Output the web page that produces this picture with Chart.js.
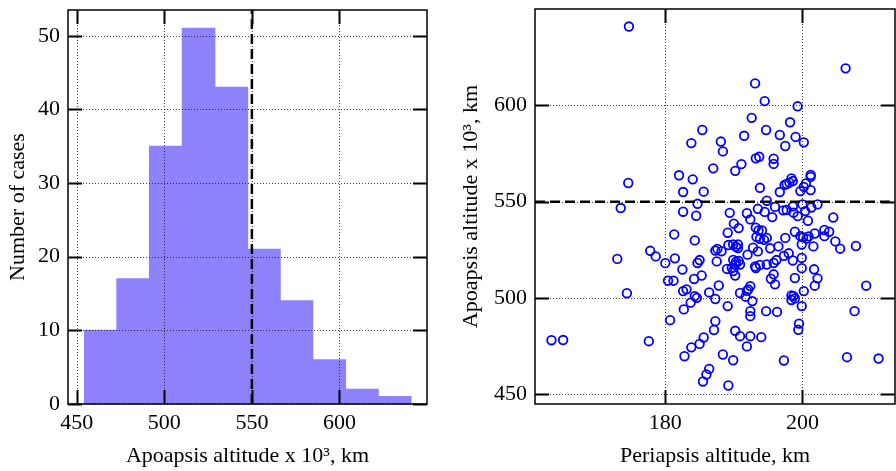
<!DOCTYPE html>
<html>
<head>
<meta charset="utf-8">
<script src="https://cdn.jsdelivr.net/npm/chart.js@4/dist/chart.umd.min.js"></script>
<style>
  html, body { margin: 0; padding: 0; background: #fff; }
  #wrap { position: relative; width: 896px; height: 471px; }
  .panel { position: absolute; top: 0; }
</style>
</head>
<body>
<div id="wrap">
  <div class="panel" style="left:0"><canvas id="histChart" width="448" height="471"></canvas></div>
  <div class="panel" style="left:448px"><canvas id="scatterChart" width="448" height="471"></canvas></div>
</div>
<script>
// Histogram of apoapsis altitude (x 10^3 km)
const binEdges = [454.4, 473.0, 491.4, 510.2, 528.9, 547.7, 566.1, 584.9, 603.5, 622.3, 640.8];
const binCounts = [10, 17, 35, 51, 43, 21, 14, 6, 2, 1];
const histXTicks = [450, 500, 550, 600];
const histYTicks = [0, 10, 20, 30, 40, 50];
const histXRange = [445, 650];
const histYRange = [0, 53.5];

// Periapsis (km) vs apoapsis (x 10^3 km) for each case
const periapsis = [
  174.7, 206.3, 193.1, 194.5, 199.3, 192.6, 198.2, 185.4, 194.7, 191.5,
  196.7, 199.0, 183.8, 188.1, 200.2, 197.5, 188.4, 193.2, 193.7, 195.8,
  195.8, 191.1, 187.0, 190.2, 182.0, 184.0, 201.2, 201.2, 198.4, 198.6,
  198.1, 197.4, 197.7, 174.6, 200.5, 200.2, 193.8, 196.7, 199.7, 201.2,
  182.6, 185.6, 194.8, 173.5, 184.7, 193.5, 194.5, 196.0, 197.2, 197.7,
  198.6, 200.0, 200.4, 201.3, 202.2, 198.7, 199.3, 182.6, 184.5, 189.4,
  191.9, 192.4, 195.6, 200.8, 204.5, 190.0, 190.7, 193.2, 193.6, 194.1,
  189.1, 181.3, 193.3, 193.8, 194.8, 194.4, 198.9, 199.7, 200.1, 200.9,
  200.6, 201.8, 203.2, 203.9, 203.2, 184.3, 197.5, 204.8, 205.5, 207.8,
  199.9, 201.6, 196.5, 195.3, 190.6, 190.3, 189.9, 189.2, 190.6, 187.6,
  187.3, 188.2, 193.5, 192.0, 198.0, 197.3, 177.8, 178.6, 173.0, 181.4,
  180.0, 185.0, 184.7, 187.5, 189.9, 190.7, 190.2, 190.9, 196.2, 195.8,
  198.6, 199.9, 182.5, 189.0, 189.7, 189.9, 190.2, 193.1, 193.8, 194.8,
  199.9, 201.7, 195.8, 195.4, 196.0, 202.2, 201.8, 198.9, 200.2, 209.3,
  180.4, 181.2, 184.2, 185.3, 187.8, 182.6, 183.1, 174.4, 186.4, 184.3,
  184.6, 183.7, 187.3, 190.9, 191.9, 192.4, 192.1, 191.7, 192.7, 189.1,
  182.7, 192.4, 192.4, 194.7, 196.3, 198.7, 198.4, 198.9, 199.9, 207.6,
  180.7, 187.3, 187.1, 199.5, 199.4, 190.2, 190.9, 192.4, 194.0, 185.6,
  185.0, 183.8, 182.8, 191.9, 163.4, 165.1, 177.6, 188.4, 189.9, 197.3,
  206.5, 211.1, 186.4, 186.0, 185.5, 189.2, 190.3, 193.2, 198.4, 192.8
];
const apoapsis = [
  640.9, 619.2, 611.4, 602.2, 599.5, 593.5, 591.2, 587.2, 587.2, 584.2,
  584.6, 583.6, 580.4, 581.2, 580.8, 578.9, 576.1, 572.5, 573.3, 572.3,
  569.6, 569.5, 567.3, 566.0, 563.7, 561.6, 563.9, 562.9, 562.1, 560.7,
  559.9, 558.7, 559.2, 559.7, 559.5, 557.7, 557.2, 555.0, 555.5, 556.0,
  555.0, 555.2, 550.5, 546.7, 548.9, 546.3, 544.7, 547.3, 545.5, 545.7,
  547.6, 548.6, 545.1, 547.0, 548.6, 544.3, 542.5, 544.8, 542.7, 544.2,
  544.0, 540.8, 542.0, 540.1, 541.8, 538.6, 536.3, 536.5, 535.1, 535.1,
  533.9, 533.0, 531.7, 530.7, 531.2, 530.2, 534.4, 532.1, 531.5, 532.0,
  530.8, 533.5, 535.3, 534.4, 532.1, 529.9, 531.2, 529.4, 525.6, 527.0,
  527.8, 526.8, 526.8, 525.8, 527.8, 526.6, 527.8, 527.5, 525.9, 525.5,
  524.6, 524.3, 524.2, 522.5, 523.2, 521.9, 524.5, 521.6, 520.3, 520.6,
  518.1, 519.7, 518.2, 519.0, 519.8, 519.2, 517.2, 517.4, 519.7, 518.2,
  519.5, 520.8, 514.8, 515.1, 515.6, 514.0, 511.7, 516.4, 517.2, 517.4,
  515.5, 514.9, 512.3, 510.0, 507.1, 510.2, 506.4, 510.4, 503.6, 506.4,
  509.0, 509.0, 509.9, 511.7, 506.5, 503.6, 504.5, 502.5, 502.9, 501.0,
  500.1, 497.6, 499.5, 502.6, 503.7, 506.2, 504.5, 500.7, 498.4, 495.8,
  494.1, 493.2, 490.6, 493.2, 492.8, 501.0, 499.0, 499.8, 495.8, 493.2,
  488.5, 488.0, 483.4, 486.7, 483.5, 483.0, 480.2, 480.2, 479.7, 479.5,
  476.2, 474.4, 469.8, 474.9, 478.1, 478.2, 477.6, 470.7, 467.7, 467.6,
  469.3, 468.6, 463.2, 460.3, 456.7, 454.6, 518.7, 515.6, 501.4, 526.1
];
const scatterXTicks = [180, 200];
const scatterYTicks = [450, 500, 550, 600];
const scatterXRange = [161, 213.5];
const scatterYRange = [445, 650];

// threshold altitude marked with a dashed line on both panels
const apoThreshold = 550;

const FONT = 'Liberation Serif';
Chart.defaults.font.family = FONT;
Chart.defaults.font.size = 22;
Chart.defaults.color = '#000';

// Dotted grid drawn over the data, box frame and inward tick marks on all sides
const framePlugin = {
  id: 'frame',
  afterDatasetsDraw(chart) {
    const { ctx, chartArea: a, scales: { x, y } } = chart;
    const tickLen = 14;
    ctx.save();
    ctx.strokeStyle = 'rgba(0,0,0,0.75)';
    ctx.lineWidth = 1;
    ctx.setLineDash([1, 2]);
    ctx.beginPath();
    x.ticks.forEach(t => {
      const px = Math.round(x.getPixelForValue(t.value)) + 0.5;
      ctx.moveTo(px, a.top); ctx.lineTo(px, a.bottom);
    });
    y.ticks.forEach(t => {
      const py = Math.round(y.getPixelForValue(t.value)) + 0.5;
      ctx.moveTo(a.left, py); ctx.lineTo(a.right, py);
    });
    ctx.stroke();
    ctx.setLineDash([]);

    ctx.strokeStyle = '#000';
    ctx.lineWidth = 2;
    ctx.beginPath();
    x.ticks.forEach(t => {
      const px = Math.round(x.getPixelForValue(t.value)) + 0.5;
      ctx.moveTo(px, a.bottom); ctx.lineTo(px, a.bottom - tickLen);
      ctx.moveTo(px, a.top); ctx.lineTo(px, a.top + tickLen);
    });
    y.ticks.forEach(t => {
      const py = Math.round(y.getPixelForValue(t.value)) + 0.5;
      ctx.moveTo(a.left, py); ctx.lineTo(a.left + tickLen, py);
      ctx.moveTo(a.right, py); ctx.lineTo(a.right - tickLen, py);
    });
    ctx.stroke();

    ctx.lineWidth = 1.5;
    ctx.strokeRect(a.left, a.top, a.right - a.left, a.bottom - a.top);
    ctx.restore();
  }
};

function fixedTicks(values) {
  return scale => { scale.ticks = values.map(v => ({ value: v })); };
}

function axis(range, ticks, title, horizontal, size, titlePad) {
  return {
    type: 'linear',
    min: range[0],
    max: range[1],
    offset: false,
    grid: { display: false, drawTicks: false, offset: false },
    border: { display: false },
    afterBuildTicks: fixedTicks(ticks),
    afterFit: s => {
      if (horizontal) s.height = size; else s.width = size;
      // keep the plot box where the layout padding puts it
      s.paddingTop = 0; s.paddingBottom = 0; s.paddingLeft = 0; s.paddingRight = 0;
    },
    ticks: { padding: horizontal ? 6 : 8, maxRotation: 0, autoSkip: false },
    title: { display: true, text: title, padding: titlePad, font: { family: FONT, size: 22 } }
  };
}

const apoLabel = 'Apoapsis altitude x 10\u00b3, km';

// left panel: histogram
const histBars = binCounts.map((c, i) => ({ x: (binEdges[i] + binEdges[i + 1]) / 2, y: c }));

new Chart(document.getElementById('histChart'), {
  data: {
    datasets: [{
      type: 'bar',
      data: histBars,
      backgroundColor: 'rgb(142,130,252)',
      borderWidth: 0,
      inflateAmount: 0.6,
      barPercentage: 1,
      categoryPercentage: 1,
      order: 2
    }, {
      type: 'line',
      data: [{ x: apoThreshold, y: histYRange[0] }, { x: apoThreshold, y: histYRange[1] }],
      borderColor: '#000',
      borderWidth: 2.5,
      borderDash: [10, 5],
      pointRadius: 0,
      order: 1
    }]
  },
  options: {
    responsive: false,
    devicePixelRatio: 1,
    animation: false,
    layout: { autoPadding: false, padding: { top: 10, right: 21, left: 0, bottom: 0 } },
    plugins: { legend: { display: false }, tooltip: { enabled: false } },
    scales: {
      x: axis(histXRange, histXTicks, apoLabel, true, 67, { top: 0, bottom: 2 }),
      y: axis(histYRange, histYTicks, 'Number of cases', false, 68, { top: 5, bottom: 0 })
    }
  },
  plugins: [framePlugin]
});

// right panel: periapsis vs apoapsis scatter
const points = periapsis.map((p, i) => ({ x: p, y: apoapsis[i] }));

new Chart(document.getElementById('scatterChart'), {
  data: {
    datasets: [{
      type: 'scatter',
      data: points,
      borderColor: '#0000ff',
      backgroundColor: 'rgba(0,0,0,0)',
      pointRadius: 4.3,
      pointBorderWidth: 1.8,
      order: 2
    }, {
      type: 'line',
      data: [{ x: scatterXRange[0], y: apoThreshold }, { x: scatterXRange[1], y: apoThreshold }],
      borderColor: '#000',
      borderWidth: 2.5,
      borderDash: [10, 5],
      pointRadius: 0,
      order: 1
    }]
  },
  options: {
    responsive: false,
    devicePixelRatio: 1,
    animation: false,
    layout: { autoPadding: false, padding: { top: 9, right: 1, left: 0, bottom: 0 } },
    plugins: { legend: { display: false }, tooltip: { enabled: false } },
    scales: {
      x: axis(scatterXRange, scatterXTicks, 'Periapsis altitude, km', true, 67, { top: 0, bottom: 2 }),
      y: axis(scatterYRange, scatterYTicks, apoLabel, false, 87, { top: 10, bottom: 0 })
    }
  },
  plugins: [framePlugin]
});
</script>
</body>
</html>
